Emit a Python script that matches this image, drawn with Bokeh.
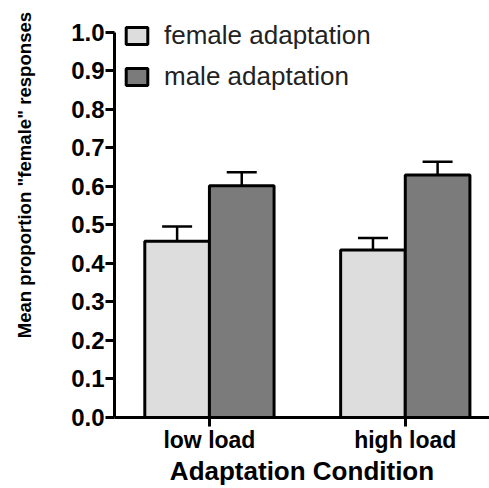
from bokeh.plotting import figure
from bokeh.models import (Range1d, FixedTicker, Whisker, TeeHead, ColumnDataSource,
                          Legend, LegendItem, CustomJSTickFormatter)
from bokeh.transform import dodge
from bokeh.embed import file_html
from bokeh.resources import INLINE

categories = ["low load", "high load"]
female_mean = [0.458, 0.435]
female_sem = [0.038, 0.031]
male_mean = [0.602, 0.630]
male_sem = [0.035, 0.034]
y_ticks = [0.0, 0.1, 0.2, 0.3, 0.4, 0.5, 0.6, 0.7, 0.8, 0.9, 1.0]
y_title = 'Mean proportion "female" responses'
x_title = "Adaptation Condition"
series_labels = ["female adaptation", "male adaptation"]

xpos = [i + 1 for i in range(len(categories))]
src = ColumnDataSource(dict(
    x=xpos,
    f=female_mean, m=male_mean,
    f_lo=[a - b for a, b in zip(female_mean, female_sem)],
    f_hi=[a + b for a, b in zip(female_mean, female_sem)],
    m_lo=[a - b for a, b in zip(male_mean, male_sem)],
    m_hi=[a + b for a, b in zip(male_mean, male_sem)],
))

FONT = "Liberation Sans"

p = figure(width=489, height=488, output_backend="svg", toolbar_location=None,
           x_range=Range1d(0.5153, 2.43), y_range=Range1d(0, 1.031),
           min_border_left=114, min_border_top=20, min_border_bottom=71,
           min_border_right=0)
p.outline_line_color = None
p.xgrid.visible = False
p.ygrid.visible = False
p.background_fill_color = "white"
p.border_fill_color = "white"

bw = 0.33
off = 0.165
r_f = p.vbar(x=dodge("x", -off), top="f", width=bw, source=src,
             fill_color="#dddddd", line_color="black", line_width=3)
r_m = p.vbar(x=dodge("x", off), top="m", width=bw, source=src,
             fill_color="#7b7b7b", line_color="black", line_width=3)

for col, lo, hi in ((-off, "f_lo", "f_hi"), (off, "m_lo", "m_hi")):
    w = Whisker(base=dodge("x", col), lower=lo, upper=hi, source=src,
                line_color="black", line_width=2.5,
                upper_head=TeeHead(size=30, line_color="black", line_width=2.5),
                lower_head=TeeHead(size=30, line_color="black", line_width=2.5))
    p.add_layout(w)

# y axis
ya = p.yaxis[0]
ya.ticker = FixedTicker(ticks=y_ticks)
ya.bounds = (0, 1.0)
ya.formatter = CustomJSTickFormatter(code="return tick.toFixed(1);")
ya.axis_line_width = 3
ya.major_tick_line_width = 3
ya.major_tick_out = 9
ya.major_tick_in = 0
ya.minor_tick_out = 0
ya.minor_tick_in = 0
ya.major_label_standoff = 1
ya.major_label_text_font = FONT
ya.major_label_text_font_style = "bold"
ya.major_label_text_font_size = "24px"
ya.major_label_text_color = "black"
# leading non-breaking spaces shift the centred title upward, as in the reference
ya.axis_label = "\u00a0" * 17 + y_title
ya.axis_label_text_font = FONT
ya.axis_label_text_font_style = "bold"
ya.axis_label_text_font_size = "18.6px"
ya.axis_label_text_color = "black"
ya.axis_label_standoff = 33

# x axis
xa = p.xaxis[0]
xa.ticker = FixedTicker(ticks=xpos)
xa.major_label_overrides = {x: c for x, c in zip(xpos, categories)}
xa.axis_line_width = 3
xa.major_tick_line_width = 3
xa.major_tick_out = 9
xa.major_tick_in = 0
xa.minor_tick_out = 0
xa.minor_tick_in = 0
xa.major_label_standoff = 0
xa.major_label_text_font = FONT
xa.major_label_text_font_style = "bold"
xa.major_label_text_font_size = "23px"
xa.major_label_text_color = "black"
xa.axis_label = x_title
xa.axis_label_text_font = FONT
xa.axis_label_text_font_style = "bold"
xa.axis_label_text_font_size = "26px"
xa.axis_label_standoff = 0
xa.axis_label_text_color = "black"

legend = Legend(items=[LegendItem(label=series_labels[0], renderers=[r_f]),
                       LegendItem(label=series_labels[1], renderers=[r_m])],
                location=(9, 325), padding=0, margin=0, spacing=10,
                glyph_width=27, glyph_height=21, label_height=21,
                label_standoff=14, label_text_font=FONT,
                label_text_font_size="26px", label_text_color="#222222",
                background_fill_alpha=0, border_line_alpha=0)
p.add_layout(legend)

open("out.html", "w").write(file_html(p, INLINE))
